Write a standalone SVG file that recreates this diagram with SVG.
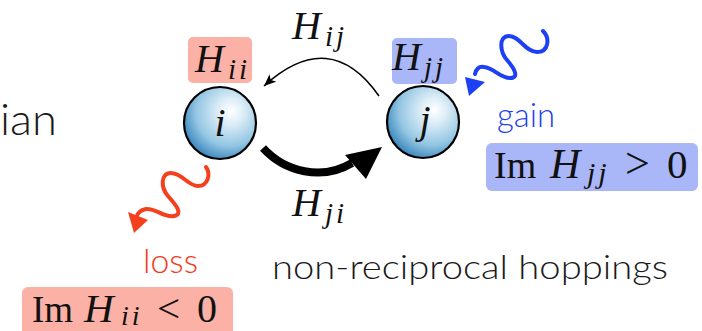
<svg xmlns="http://www.w3.org/2000/svg" width="702" height="331" viewBox="0 0 702 331">
<style>
.sans{font-family:Lato,"Open Sans","Liberation Sans",sans-serif;font-weight:300;}
.math{font-family:"Liberation Serif","Times New Roman",serif;fill:#111;}
.it{font-style:italic;}
.sub{font-style:italic;letter-spacing:3px;}
.node{stroke:#000;stroke-width:2.2;fill:url(#ball);}
.red{fill:#fbb1a5;}
.blue{fill:#a9b6f8;}
</style>
<defs>
<radialGradient id="ball" cx="0.62" cy="0.36" r="0.72" fx="0.66" fy="0.33">
<stop offset="0" stop-color="#ffffff"/>
<stop offset="0.25" stop-color="#dcedf7"/>
<stop offset="0.65" stop-color="#93c6e3"/>
<stop offset="1" stop-color="#2a7bb6"/>
</radialGradient>
<marker id="thinhead" markerUnits="userSpaceOnUse" markerWidth="14" markerHeight="12" refX="12" refY="5" orient="auto">
<path d="M0,0 L12,5 L0,10 L3,5 z" fill="#000"/>
</marker>
</defs>

<text class="sans" x="0" y="135" font-size="44" fill="#1a1a1a" textLength="57" lengthAdjust="spacingAndGlyphs">ian</text>

<g id="connectors">
<path d="M379,96 Q330,26 264,86" fill="none" stroke="#000" stroke-width="1.6" marker-end="url(#thinhead)"/>
<path d="M263,148 C285,172 322,181 352,163" fill="none" stroke="#000" stroke-width="8"/>
<polygon points="382,147 345,155 366,179" fill="#000"/>
<text class="math it" x="292" y="39" font-size="40">H</text>
<text class="math sub" x="325" y="46" font-size="29">ij</text>
<text class="math it" x="292" y="216" font-size="40">H</text>
<text class="math sub" x="325" y="223" font-size="29">ji</text>
</g>

<g id="node-i">
<rect class="red" x="188" y="37" width="64" height="46" rx="5"/>
<text class="math it" x="195" y="72" font-size="40">H</text>
<text class="math sub" x="228" y="79" font-size="29">ii</text>
<circle class="node" cx="220" cy="123" r="36"/>
<text class="math it" x="220" y="136" font-size="40" text-anchor="middle">i</text>
</g>

<g id="node-j">
<rect class="blue" x="392" y="38" width="65" height="46" rx="5"/>
<text class="math it" x="392" y="70" font-size="40">H</text>
<text class="math sub" x="424" y="77" font-size="29">jj</text>
<circle class="node" cx="423" cy="122" r="36"/>
<text class="math it" x="425" y="133" font-size="40" text-anchor="middle">j</text>
</g>

<g id="loss">
<path d="M206,167 C211,174 208,186 198,186 C188,186 182,173 171,173 C160,173 161,188 168,196 C175,204 184,214 174,216 C164,218 156,208 146,209 C140,210 137,214 136,218" fill="none" stroke="#f4401e" stroke-width="4" stroke-linecap="round"/>
<polygon points="134,233 128,212 148,220" fill="#f4401e"/>
<text class="sans" x="143" y="273" font-size="34" fill="#f23c1c" textLength="55" lengthAdjust="spacingAndGlyphs">loss</text>
<rect class="red" x="22" y="287" width="211" height="50" rx="6"/>
<text class="math" x="32" y="322" font-size="37">Im</text>
<text class="math it" x="84" y="322" font-size="41">H</text>
<text class="math sub" x="121" y="325" font-size="28">ii</text>
<text class="math" x="157" y="322" font-size="41">&lt;</text>
<text class="math" x="197" y="322" font-size="40">0</text>
</g>

<g id="gain">
<path d="M543,31 C550,38 549,52 537,52 C525,52 520,36 509,36 C498,36 500,52 507,60 C514,68 520,78 510,78 C500,78 494,68 484,67 C478,66 476,70 475,74" fill="none" stroke="#1e40f5" stroke-width="4" stroke-linecap="round"/>
<polygon points="469,96 465,77 485,82" fill="#1e40f5"/>
<text class="sans" x="497" y="127" font-size="33" fill="#1f3ff0" textLength="58" lengthAdjust="spacingAndGlyphs">gain</text>
<rect class="blue" x="486" y="143" width="212" height="48" rx="6"/>
<text class="math" x="494" y="178" font-size="38">Im</text>
<text class="math it" x="550" y="178" font-size="42">H</text>
<text class="math sub" x="587" y="183" font-size="30">jj</text>
<text class="math" x="625" y="178" font-size="44">&gt;</text>
<text class="math" x="667" y="178" font-size="41">0</text>
</g>

<text class="sans" x="272" y="279" font-size="34" fill="#1a1a1a" textLength="396" lengthAdjust="spacingAndGlyphs">non-reciprocal hoppings</text>
</svg>
